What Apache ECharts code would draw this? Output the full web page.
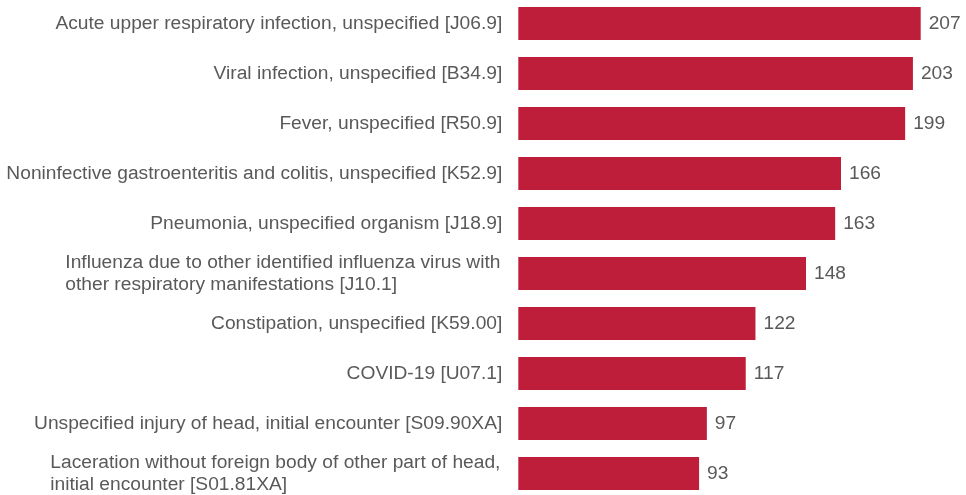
<!DOCTYPE html>
<html>
<head>
<meta charset="utf-8">
<script src="https://cdn.jsdelivr.net/npm/echarts@6/dist/echarts.min.js"></script>
<style>
  html, body { margin: 0; padding: 0; background: #ffffff; }
  #chart { width: 966px; height: 495px; }
</style>
</head>
<body>
<div id="chart"></div>
<script>
// Diagnosis labels (top to bottom) and their visit counts
const diagnoses = [
  'Acute upper respiratory infection, unspecified [J06.9]',
  'Viral infection, unspecified [B34.9]',
  'Fever, unspecified [R50.9]',
  'Noninfective gastroenteritis and colitis, unspecified [K52.9]',
  'Pneumonia, unspecified organism [J18.9]',
  'Influenza due to other identified influenza virus with\nother respiratory manifestations [J10.1]',
  'Constipation, unspecified [K59.00]',
  'COVID-19 [U07.1]',
  'Unspecified injury of head, initial encounter [S09.90XA]',
  'Laceration without foreign body of other part of head,\ninitial encounter [S01.81XA]'
];
const counts = [207, 203, 199, 166, 163, 148, 122, 117, 97, 93];

const FONT = '"Liberation Sans", Arial, sans-serif';
const FONT_SIZE = 19.2;
const LINE_HEIGHT = 22;
const TEXT_COLOR = '#595959';
const BAR_COLOR = '#BE1E39';

// Measure text so multi-line labels keep their lines left-aligned
// while the whole block stays right-aligned against the bars.
const measureCtx = document.createElement('canvas').getContext('2d');
measureCtx.font = FONT_SIZE + 'px ' + FONT;
const rich = {};
diagnoses.forEach((d, i) => {
  const lines = d.split('\n');
  if (lines.length > 1) {
    const w = Math.max(...lines.map(l => measureCtx.measureText(l).width));
    rich['m' + i] = { width: Math.ceil(w) + 1, align: 'left', fontSize: FONT_SIZE, lineHeight: LINE_HEIGHT, color: TEXT_COLOR, fontFamily: FONT };
  }
});

// Category axis runs bottom-up in ECharts, so reverse the lists
const cats = diagnoses.slice().reverse();
const vals = counts.slice().reverse();

const chart = echarts.init(document.getElementById('chart'), null, { renderer: 'canvas' });
chart.setOption({
  animation: false,
  backgroundColor: '#ffffff',
  grid: {
    left: 518.3, width: 402.4, top: -1.5, height: 500,
    containLabel: false,
    outerBoundsMode: 'none'
  },
  xAxis: {
    type: 'value', min: 0, max: 207,
    show: false
  },
  yAxis: {
    type: 'category',
    data: cats,
    axisLine: { show: false },
    axisTick: { show: false },
    splitLine: { show: false },
    axisLabel: {
      margin: 16,
      fontSize: FONT_SIZE,
      fontFamily: FONT,
      color: TEXT_COLOR,
      lineHeight: LINE_HEIGHT,
      rich: rich,
      formatter: function (value) {
        const idx = diagnoses.indexOf(value);
        if (rich['m' + idx]) {
          return value.split('\n').map(l => '{m' + idx + '|' + l + '}').join('\n');
        }
        return value;
      }
    }
  },
  series: [{
    type: 'bar',
    data: vals,
    barWidth: 33,
    itemStyle: { color: BAR_COLOR },
    label: {
      show: true,
      position: 'right',
      distance: 8,
      fontSize: FONT_SIZE,
      fontFamily: FONT,
      color: TEXT_COLOR
    }
  }]
});
</script>
</body>
</html>
